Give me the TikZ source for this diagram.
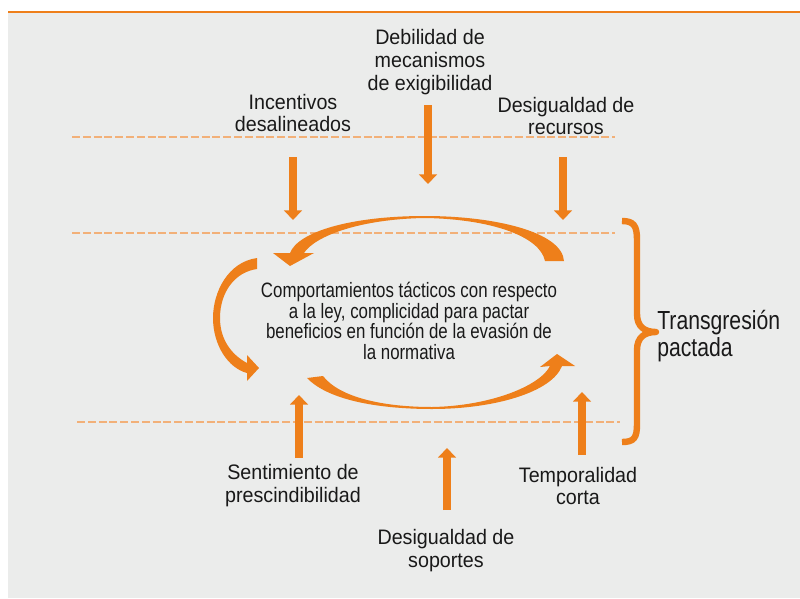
\documentclass[tikz,border=0pt]{standalone}
\usepackage{fontspec}
\setmainfont{Liberation Sans}
\newfontfamily\factorfont{Liberation Sans}[FakeStretch=0.94]
\newfontfamily\narrowfont{Liberation Sans}[FakeStretch=0.81]
\usepackage{tikz}
\usetikzlibrary{arrows.meta,positioning}
\definecolor{naranja}{RGB}{238,127,26}
\definecolor{guia}{RGB}{242,176,120}
\definecolor{fondo}{RGB}{235,236,235}

\begin{document}
\begin{tikzpicture}[
    x=0.025cm, y=-0.025cm,
    factor/.style={align=center, inner sep=0pt, text=black!90, font=\factorfont\fontsize{14.9}{16.3}\selectfont},
    core/.style={align=center, inner sep=0pt, text=black!90, font=\narrowfont\fontsize{14.8}{14.7}\selectfont},
    guide/.style={draw=guia, line width=0.042cm, dash pattern=on 0.2cm off 0.07cm},
    bigarrow/.style={draw=naranja, line width=0.19cm, -{Triangle[width=0.44cm,length=0.24cm]}},
    swoosh/.style={fill=naranja}
]
    \useasboundingbox (0,0) rectangle (800,598);
    \fill[fondo] (8,12) rectangle (800,598);
    \draw[naranja, line width=0.065cm] (8,12) -- (800,12);

    % guide lines
    \draw[guide] (72,137) -- (615,137);
    \draw[guide] (72,233) -- (615,233);
    \draw[guide] (77,422) -- (620,422);

    % factors
    \node[factor] (deb) at (430,62) {Debilidad de\\mecanismos\\de exigibilidad};
    \node[factor] (inc) at (293,113) {Incentivos\\desalineados};
    \node[factor] (rec) at (566,116) {Desigualdad de\\recursos};
    \node[factor] (sent) at (293,486) {Sentimiento de\\prescindibilidad};
    \node[factor] (temp) at (578,486) {Temporalidad\\corta};
    \node[factor] (sop) at (446,551) {Desigualdad de\\soportes};

    \node[core] (core) at (409,321) {Comportamientos tácticos con respecto\\a la ley, complicidad para pactar\\beneficios en función de la evasión de\\la normativa};

    \node[core, font=\narrowfont\fontsize{18.6}{19.2}\selectfont, align=left, anchor=west] (trans) at (657,336) {Transgresión\\pactada};

    % straight arrows
    \coordinate (deb-s) at (428,105);
    \coordinate (deb-e) at (428,184);
    \coordinate (inc-s) at (293,157);
    \coordinate (inc-e) at (293,220);
    \coordinate (rec-s) at (563,157);
    \coordinate (rec-e) at (563,220);
    \coordinate (sent-s) at (299,458);
    \coordinate (sent-e) at (299,395);
    \coordinate (temp-s) at (582,455);
    \coordinate (temp-e) at (582,392);
    \coordinate (sop-s) at (447,510);
    \coordinate (sop-e) at (447,448);

    \draw[bigarrow] (deb-s) -- (deb-e);
    \draw[bigarrow] (inc-s) -- (inc-e);
    \draw[bigarrow] (rec-s) -- (rec-e);
    \draw[bigarrow] (sent-s) -- (sent-e);
    \draw[bigarrow] (temp-s) -- (temp-e);
    \draw[bigarrow] (sop-s) -- (sop-e);

    % curved arrows round the core
    \fill[swoosh] (564,261) .. controls (562,232) and (495,216) .. (425,216)
        .. controls (350,216) and (298,232) .. (290,253)
        -- (273,253) -- (290,266) -- (314,253) -- (304,253)
        .. controls (315,236) and (360,219) .. (425,218)
        .. controls (490,219) and (540,236) .. (545,261) -- cycle;
    \fill[swoosh] (257,258) .. controls (228,262) and (213,292) .. (213,318)
        .. controls (213,345) and (228,368) .. (247,373)
        -- (247,381) -- (259,368) -- (247,355) -- (247,363)
        .. controls (232,355) and (220,340) .. (220,318)
        .. controls (220,292) and (235,272) .. (257,269) -- cycle;
    \fill[swoosh] (307,378) .. controls (330,402) and (385,409) .. (432,409)
        .. controls (495,409) and (552,392) .. (562,366)
        -- (575,366) -- (557,354) -- (540,367) -- (550,366)
        .. controls (540,386) and (490,406) .. (432,407)
        .. controls (385,407) and (340,398) .. (323,376) -- cycle;

    % brace
    \draw[naranja, line width=0.16cm, line join=round]
        (622,221) .. controls (634,221) and (637,226) .. (637,240) -- (637,314)
        .. controls (637,327) and (645,332) .. (656,332)
        .. controls (645,332) and (637,337) .. (637,350) -- (637,424)
        .. controls (637,438) and (634,442) .. (622,442);
\end{tikzpicture}
\end{document}
